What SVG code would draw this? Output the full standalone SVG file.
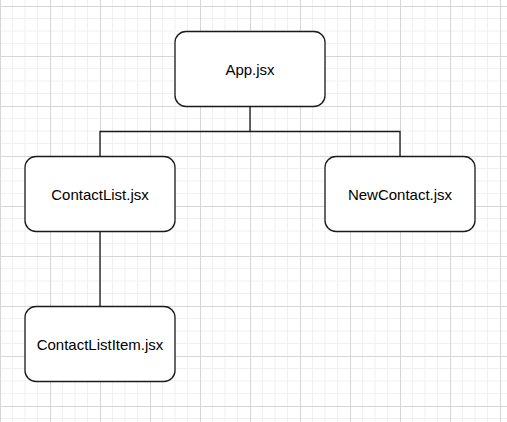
<svg xmlns="http://www.w3.org/2000/svg" width="507" height="422" viewBox="0 0 507 422">
  <defs>
    <pattern id="grid" x="0" y="6" width="50" height="50" patternUnits="userSpaceOnUse">
      <path d="M12.5 0V50M25 0V50M37.5 0V50M0 12.5H50M0 25H50M0 37.5H50" fill="none" stroke="#f0f0f0" stroke-width="1"/>
      <path d="M0.5 0V50M0 0.5H50" fill="none" stroke="#d6d6d6" stroke-width="1"/>
    </pattern>
  </defs>
  <style>
    .box { fill: #ffffff; stroke: #1a1a1a; stroke-width: 1.3; }
    .lbl { font-family: "Liberation Sans", Arial, sans-serif; font-size: 15px; fill: #000000; text-anchor: middle; }
    .edge { fill: none; stroke: #1a1a1a; stroke-width: 1.3; }
  </style>
  <rect x="0" y="0" width="507" height="422" fill="#ffffff"/>
  <rect x="0" y="0" width="507" height="422" fill="url(#grid)"/>
  <g id="connectors">
    <path class="edge" d="M250 106.5V131.5"/>
    <path class="edge" d="M100 156.5V131.5H400V156.5"/>
    <path class="edge" d="M100 231.5V306.5"/>
  </g>
  <g id="app">
    <rect class="box" x="175" y="31.5" width="150" height="75" rx="11" ry="11"/>
    <text class="lbl" x="250" y="74.5">App.jsx</text>
  </g>
  <g id="contactlist">
    <rect class="box" x="25" y="156.5" width="150" height="75" rx="11" ry="11"/>
    <text class="lbl" x="100" y="199.5">ContactList.jsx</text>
  </g>
  <g id="newcontact">
    <rect class="box" x="325" y="156.5" width="150" height="75" rx="11" ry="11"/>
    <text class="lbl" x="400" y="199.5">NewContact.jsx</text>
  </g>
  <g id="contactlistitem">
    <rect class="box" x="25" y="306.5" width="150" height="75" rx="11" ry="11"/>
    <text class="lbl" x="100" y="349.5">ContactListItem.jsx</text>
  </g>
</svg>
